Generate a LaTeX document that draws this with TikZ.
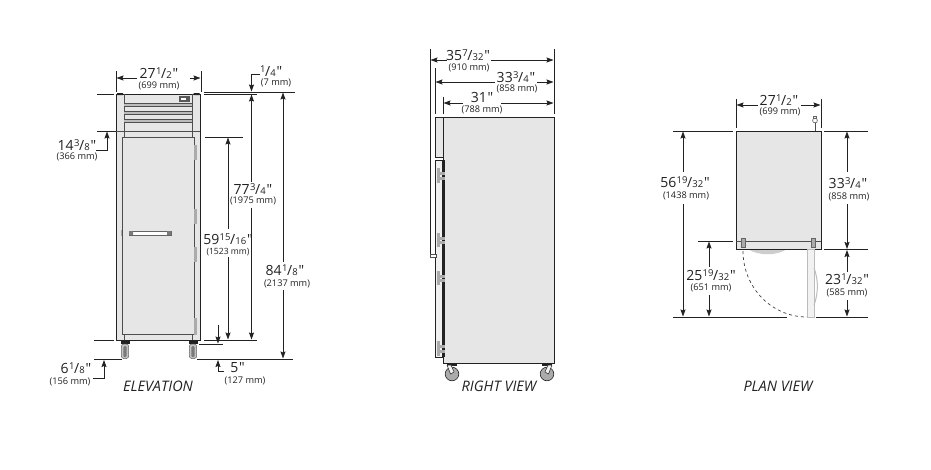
\documentclass[tikz,border=0pt]{standalone}
\usepackage{fontspec}
\setmainfont[Ligatures=TeXOff]{Open Sans}
\usetikzlibrary{arrows.meta}
\definecolor{ink}{HTML}{222222}
\definecolor{panel}{HTML}{E6E6E6}
\definecolor{hinge}{HTML}{ABABAB}
\tikzset{
  dimline/.style={draw=ink,line width=0.8pt},
  dimarrow/.style={dimline,-{Stealth[length=7pt,width=5pt,inset=1pt]}},
  bigt/.style={inner sep=0pt,anchor=base,yshift=-5pt,text=ink,font=\fontsize{14}{16}\selectfont},
  mmt/.style={inner sep=0pt,anchor=base,yshift=-3pt,text=ink,font=\fontsize{9.2}{11}\selectfont},
  smallmm/.style={mmt,font=\fontsize{8.6}{10}\selectfont},
  viewt/.style={inner sep=0pt,text=ink,font=\fontsize{14.5}{16}\selectfont\itshape},
  shell/.style={draw=ink,fill=panel,line width=1pt},
  thin part/.style={draw=ink!80,line width=0.7pt},
}
\newcommand{\frc}[3]{#1\kern0.3pt\raisebox{3.4pt}{\fontsize{9.5}{10}\selectfont #2}\kern-0.3pt/\kern0.1pt{\fontsize{9.5}{10}\selectfont #3}\kern0.8pt"}
\newcommand{\hdim}[6]{%
  \coordinate (#1L) at (#3,#2); \coordinate (#1a) at (#4,#2);
  \coordinate (#1b) at (#5,#2); \coordinate (#1R) at (#6,#2);
  \draw[dimarrow] (#1a) -- (#1L); \draw[dimarrow] (#1b) -- (#1R);}
\newcommand{\vdim}[6]{%
  \coordinate (#1T) at (#2,#3); \coordinate (#1a) at (#2,#4);
  \coordinate (#1b) at (#2,#5); \coordinate (#1B) at (#2,#6);
  \draw[dimarrow] (#1a) -- (#1T); \draw[dimarrow] (#1b) -- (#1B);}
\newcommand{\lin}[5]{%
  \coordinate (#1s) at (#2,#3); \coordinate (#1e) at (#4,#5);
  \draw[dimline] (#1s) -- (#1e);}
\begin{document}
\begin{tikzpicture}[x=1pt,y=-1pt]
\useasboundingbox (0,0) rectangle (931,469);
\fill[white] (0,0) rectangle (931,469);

%% ELEVATION
\foreach \cx in {125,193}{
  \fill[ink] (\cx-4.5,340) rectangle (\cx+4.5,343.5);
  \draw[draw=ink!70,fill=hinge!70,line width=0.5pt,rounded corners=2.5pt] (\cx-3.7,344) rectangle (\cx+3.7,358.5);
  \fill[ink!60,rounded corners=1.2pt] (\cx-1.7,346) rectangle (\cx+1.7,357);
}
\draw[shell] (116,94) rectangle (200,340);
\draw[thin part] (124.3,94) -- (124.3,137) (192,94) -- (192,137);
\draw[thin part] (116,131) -- (200,131);
\fill[ink] (117,93) rectangle (123,95) (193.5,93) rectangle (199.5,95);
\foreach \gy in {103,111,119}{
  \fill[hinge!80] (124.3,\gy) rectangle (192,\gy+3);
  \draw[ink!80,line width=0.6pt] (124.3,\gy) -- (192,\gy) (124.3,\gy+3) -- (192,\gy+3);
}
\fill[ink!75] (179,96) rectangle (189.5,102);
\fill[white] (181,98) rectangle (186,99.5);
\draw[thin part,fill=panel,line width=0.9pt] (122,137) rectangle (194,334);
\draw[thin part] (124.3,334) -- (124.3,340) (192,334) -- (192,340);
\foreach \hy/\hz in {145/160,209/224,247/262,318/335}{
  \fill[hinge] (194.3,\hy) rectangle (197,\hz);
}
\fill[hinge] (120.5,230) rectangle (122,236);
\draw[ink!70,fill=white,line width=0.5pt] (129,231.2) rectangle (171,234.8);
\fill[ink!60] (129,231.2) rectangle (133,234.8) (167,231.2) rectangle (171,234.8);

\lin{ea}{116}{71}{116}{92}
\lin{eb}{201}{71}{201}{92}
\lin{ec}{204}{92}{295}{92}
\lin{ed}{204}{94.3}{257}{94.3}
\lin{ee}{97}{94}{114}{94}
\lin{ef}{205}{137}{243}{137}
\lin{eg}{94}{340}{114}{340}
\lin{eh}{204}{340}{257}{340}
\lin{ei}{199}{344}{223}{344}
\lin{ej}{94}{359}{122}{359}
\lin{ek}{197}{359}{293}{359}
\lin{el}{97}{131}{116}{131}

\hdim{dA}{78}{116.5}{137}{190}{200.5}
\node[bigt] (tA) at (159,73) {\frc{27}{1}{2}};
\node[mmt] (mA) at (159,85) {(699 mm)};

\coordinate (qa) at (260,74); \coordinate (qb) at (251.5,74); \coordinate (qc) at (251.5,91.5);
\draw[dimarrow] (qa) -- (qb) -- (qc);
\node[bigt] (tQ) at (271,71) {\frc{}{1}{4}};
\node[mmt] (mQ) at (276,82) {(7 mm)};

\coordinate (ra) at (96,150); \coordinate (rb) at (107,150); \coordinate (rc) at (107,131.5);
\draw[dimarrow] (ra) -- (rb) -- (rc);
\node[bigt] (tR) at (77,145) {\frc{14}{3}{8}};
\node[mmt] (mR) at (77,156) {(366 mm)};

\vdim{dB}{251.5}{94.5}{182}{208}{339.5}
\node[bigt] (tB) at (253,189) {\frc{77}{3}{4}};
\node[mmt] (mB) at (253,200.5) {(1975 mm)};

\vdim{dC}{283}{92.5}{262}{290}{358.5}
\node[bigt] (tC) at (285,270) {\frc{84}{1}{8}};
\node[mmt] (mC) at (287,283) {(2137 mm)};

\vdim{dD}{228}{137.5}{229}{257}{339.5}
\node[bigt] (tD) at (228,239) {\frc{59}{15}{16}};
\node[smallmm] (mD) at (228,251) {(1523 mm)};

\coordinate (sa) at (218,325); \coordinate (sb) at (218,343.5);
\draw[dimarrow] (sa) -- (sb);
\coordinate (ua) at (224,371); \coordinate (ub) at (218,371); \coordinate (uc) at (218,360);
\draw[dimarrow] (ua) -- (ub) -- (uc);
\node[bigt] (tE) at (237.5,367) {5\kern0.8pt"};
\node[mmt] (mE) at (245,380) {(127 mm)};

\coordinate (va) at (93,378); \coordinate (vb) at (104,378); \coordinate (vc) at (104,360);
\draw[dimarrow] (va) -- (vb) -- (vc);
\node[bigt] (tF) at (76,368) {\frc{6}{1}{8}};
\node[mmt] (mF) at (70,381) {(156 mm)};

\node[viewt] (vE) at (158,386) {ELEVATION};

%% RIGHT VIEW
\foreach \cx in {452,547}{
  \draw[draw=ink,fill=hinge,line width=0.6pt] (\cx,374) circle (6.8);
  \fill[ink] (\cx-5,363) rectangle (\cx+5,366);
}
\draw[ink,fill=panel!55,line width=0.5pt] (452,374) ++(-1.5,0) -- (447,365) -- (451,365) -- (454,372) -- cycle;
\draw[ink,fill=panel!55,line width=0.5pt] (547,374) ++(1.5,0) -- (552,365) -- (548,365) -- (545,372) -- cycle;
\draw[shell] (443,117) rectangle (554,363);
\draw[ink,fill=panel,line width=0.8pt] (435,117) rectangle (443,157);
\draw[ink,fill=panel!60,line width=0.8pt] (435,160) rectangle (443,357);
\fill[ink] (442,160) rectangle (444.5,357);
\foreach \hy/\hz in {168/183,233/247,271/285,341/356}{
  \fill[hinge] (437,\hy) rectangle (440,\hz);
  \fill[hinge] (439,\hy+3.5) rectangle (444.5,\hy+6.5);
  \fill[hinge] (439,\hz-6.5) rectangle (444.5,\hz-3.5);
}
\lin{ra}{430}{49}{430}{254}
\draw[ink!80,fill=white,line width=0.5pt] (430,254) rectangle (436,257.5);
\lin{rb}{554}{49}{554}{114}
\lin{rc}{435}{68}{435}{114}
\lin{rd}{443}{97}{443}{114}
\hdim{dG}{60}{430.5}{447}{491}{553.5}
\node[bigt] (tG) at (468,55) {\frc{35}{7}{32}};
\node[mmt] (mG) at (469,67) {(910 mm)};
\hdim{dH}{82}{435.5}{495}{537}{553.5}
\node[bigt] (tH) at (516,77) {\frc{33}{3}{4}};
\node[mmt] (mH) at (517,88) {(858 mm)};
\hdim{dI}{103}{443.5}{463}{501}{553.5}
\node[bigt] (tI) at (482,97) {31\kern0.8pt"};
\node[mmt] (mI) at (482,109) {(788 mm)};
\node[viewt] (vR) at (499,386) {RIGHT VIEW};

%% PLAN VIEW
\fill[hinge!60] (748,249) .. controls (758,256) and (777,256) .. (787,249) -- cycle;
\draw[shell] (736,131) rectangle (821,249);
\draw[thin part] (736,241) -- (821,241);
\draw[ink!70,fill=hinge,line width=0.5pt] (741,238) rectangle (745,247);
\draw[ink!70,fill=hinge,line width=0.5pt] (811.5,238) rectangle (815.5,247);
\draw[hinge!80,fill=panel!50,line width=0.8pt] (807,249) rectangle (814,317);
\draw[hinge!80,line width=1pt] (814,268) .. controls (818.5,280) and (818.5,293) .. (814,305);
\draw[ink!85,line width=0.7pt,dash pattern=on 3pt off 3pt] (743,251) arc[start angle=180,end angle=270,x radius=64,y radius=-66];
\draw[ink!80,line width=0.6pt] (815,131) -- (815,123);
\draw[ink!80,fill=white,line width=0.6pt] (815,120.5) circle (2.4);
\draw[ink!70,line width=0.5pt] (813.6,116) rectangle (816.4,118);

\lin{pa}{736}{99}{736}{128}
\lin{pb}{821}{99}{821}{128}
\lin{pc}{673}{131}{733}{131}
\lin{pd}{824}{131}{868}{131}
\lin{pe}{698}{241}{733}{241}
\lin{pf}{824}{249.5}{868}{249.5}
\lin{pg}{673}{317}{787}{317}
\lin{ph}{816}{317}{868}{317}

\hdim{dJ}{105}{736.5}{758}{801}{820.5}
\node[bigt] (tJ) at (779,100) {\frc{27}{1}{2}};
\node[mmt] (mJ) at (780,111) {(699 mm)};
\vdim{dK}{683}{131.5}{172}{204}{316.5}
\node[bigt] (tK) at (685,182) {\frc{56}{19}{32}};
\node[mmt] (mK) at (686,195) {(1438 mm)};
\vdim{dL}{847}{131.5}{172}{204}{249}
\node[bigt] (tL) at (848,183) {\frc{33}{3}{4}};
\node[mmt] (mL) at (849,196) {(858 mm)};
\vdim{dM}{709}{241.5}{267}{295}{316.5}
\node[bigt] (tM) at (711,275) {\frc{25}{19}{32}};
\node[mmt] (mM) at (711,287) {(651 mm)};
\vdim{dN}{847}{250}{272}{300}{316.5}
\node[bigt] (tN) at (847,279) {\frc{23}{1}{32}};
\node[mmt] (mN) at (847,292) {(585 mm)};
\node[viewt] (vP) at (778,386) {PLAN VIEW};
\end{tikzpicture}
\end{document}
